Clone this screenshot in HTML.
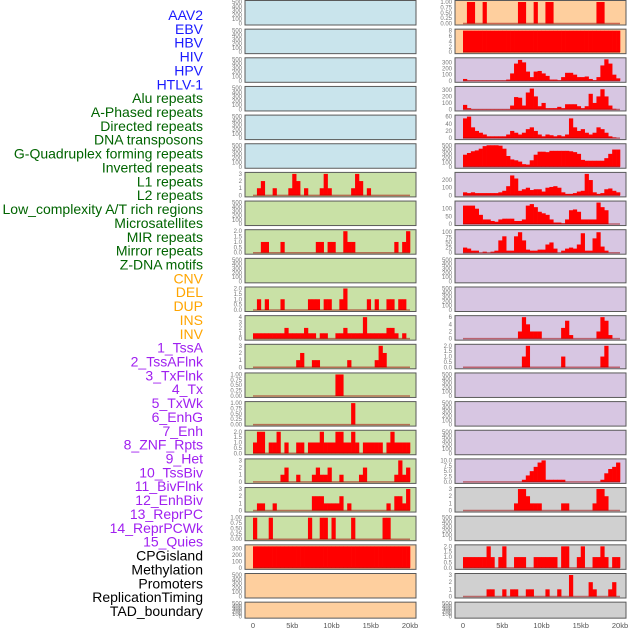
<!DOCTYPE html>
<html><head><meta charset="utf-8"><style>
body{margin:0;background:#fff}
svg{display:block;font-family:"Liberation Sans",sans-serif}
</style></head><body>
<svg id="c" width="630" height="630" viewBox="0 0 630 630"></svg>
<script>
const labels=["AAV2","EBV","HBV","HIV","HPV","HTLV-1","Alu repeats","A-Phased repeats","Directed repeats","DNA transposons","G-Quadruplex forming repeats","Inverted repeats","L1 repeats","L2 repeats","Low_complexity A/T rich regions","Microsatellites","MIR repeats","Mirror repeats","Z-DNA motifs","CNV","DEL","DUP","INS","INV","1_TssA","2_TssAFlnk","3_TxFlnk","4_Tx","5_TxWk","6_EnhG","7_Enh","8_ZNF_Rpts","9_Het","10_TssBiv","11_BivFlnk","12_EnhBiv","13_ReprPC","14_ReprPCWk","15_Quies","CPGisland","Methylation","Promoters","ReplicationTiming","TAD_boundary"];
const labelGroups=[6,13,5,15,5];
const xTicks=[0,5000,10000,15000,20000];
const xTickLabels=["0","5kb","10kb","15kb","20kb"];
// left-panel series (40 bins of 500bp)
const L6=[0,1,2,0,0,1,0,0,0,1,3,2,0,1,0,0,0,1,3,1,0,0,0,0,0,1,3,2,0,1,0,0,0,0,0,0,0,0,0,0];
const L8=[0,0,1,1,0,0,0,1,0,0,0,0,0,0,0,0,1,1,0,1,1,0,0,2,1,1,0,0,0,0,0,0,0,0,0,0,1,0,1,2];
const L10=[0,1,0,1,0,0,0,1,0,0,0,0,0,0,1,1,1,0,1,1,0,0,1,2,0,0,0,0,0,1,0,1,0,0,1,1,0,1,1,0];
const L11=[1,1,1,1,1,1,1,1,2,1,1,1,1,2,1,1,0,1,1,0,0,1,1,2,1,1,1,1,4,1,1,1,1,1,2,2,1,0,1,0];
const L12=[0,0,0,0,0,0,0,0,0,0,0,1,2,0,0,1,1,0,0,0,0,0,0,0,1,0,0,0,0,0,0,1,3,2,0,0,0,0,0,0];
const L13=[0,0,0,0,0,0,0,0,0,0,0,0,0,0,0,0,0,0,0,0,0,1,1,0,0,0,0,0,0,0,0,0,0,0,0,0,0,0,0,0];
const L14=[0,0,0,0,0,0,0,0,0,0,0,0,0,0,0,0,0,0,0,0,0,0,0,0,0,1,0,0,0,0,0,0,0,0,0,0,0,0,0,0];
const L15=[1,2,2,0,1,1,2,0,1,0,0,1,1,0,1,1,1,2,1,1,1,2,2,1,1,2,1,0,1,1,1,1,1,0,1,2,1,1,1,1];
const L16=[0,0,0,0,0,0,0,1,2,0,0,1,0,0,0,1,2,1,1,2,0,0,1,0,0,0,0,1,2,0,0,0,0,0,0,0,1,3,1,2];
const L17=[0,1,1,0,0,1,0,0,0,0,0,0,0,0,0,2,2,2,1,1,1,1,2,0,1,0,0,0,0,0,0,0,0,0,1,0,2,2,1,3];
const L18=[1,0,0,0,1,0,0,0,0,0,0,0,0,0,1,0,0,1,1,0,1,0,0,0,0,1,0,0,0,0,0,0,0,1,1,0,0,0,0,0];
const L19=[330,330,330,330,330,330,330,330,330,330,330,330,330,330,330,330,330,330,330,330,330,330,330,330,330,330,330,330,330,330,330,330,330,330,330,330,330,330,330,330];
// right-panel series
const R0=[0,1,1,0,0,1,0,0,0,0,0,0,0,0,1,1,0,0,1,0,0,1,1,0,0,0,0,0,0,0,0,0,0,0,1,1,0,0,0,0];
const R1=[8,8,8,8,8,8,8,8,8,8,8,8,8,8,8,8,8,8,8,8,8,8,8,8,8,8,8,8,8,8,8,8,8,8,8,8,8,8,8,8];
const R2=[30,5,5,5,5,5,5,5,5,5,5,20,120,280,340,300,150,60,150,160,120,80,20,20,10,60,130,130,100,60,60,70,30,10,60,250,350,280,100,40];
const R3=[70,20,5,5,5,5,5,5,5,5,5,5,60,190,180,60,260,320,200,50,100,20,20,20,40,20,80,80,80,50,20,50,240,100,200,310,200,60,10,0];
const R4=[55,60,30,20,15,10,5,5,5,5,5,10,20,15,10,15,25,30,20,10,5,10,8,5,8,5,10,55,30,20,25,15,10,15,30,25,15,5,2,0];
const R5=[280,320,360,380,420,480,500,500,500,490,420,250,170,150,120,60,50,150,280,350,350,340,370,370,370,370,370,360,340,300,160,140,140,140,140,140,200,300,400,400];
const R6=[40,30,40,30,30,30,30,30,30,40,60,120,260,220,60,80,100,70,80,80,50,100,110,120,100,40,20,20,30,50,60,280,200,40,20,30,80,90,60,40];
const R7=[120,120,120,100,60,30,30,20,15,30,35,35,35,20,20,30,120,130,110,80,70,60,30,10,10,5,30,90,95,80,30,30,30,30,140,110,90,0,0,0];
const R8=[25,20,10,10,0,5,0,5,10,60,80,10,10,80,100,60,15,10,10,15,15,40,50,20,0,10,20,25,20,40,95,10,10,70,100,30,10,0,0,0];
const R11=[0,0,0,0,0,0,0,0,0,0,0,0,0,0,2,6,4,2,2,2,0,0,0,0,0,3,5,1,0,0,0,0,0,0,2,6,5,1,0,0];
const R12=[0,0,0,0,0,0,0,0,0,0,0,0,0,0,0,1,2,0,0,0,0,0,0,0,0,1,0,0,0,0,0,0,0,0,0,1,2,0,0,0];
const R16=[0,0,0,0,0,0,0,0,0,0,0,0,0,0,0,1,3,5,7,9,10,1,1,1,1,1,0,0,0,0,0,0,0,0,0,1,4,6,7,9];
const R17=[0,0,0,0,0,0,0,0,0,0,0,0,0,1,3,3,2,1,1,1,0,0,0,0,0,1,1,0,0,0,0,0,0,1,3,3,2,0,0,0];
const R19=[1,1,1,1,1,1,2,1,0,1,2,0,0,1,1,1,0,0,1,1,1,1,1,1,0,2,2,0,0,1,2,0,0,1,1,2,1,0,1,1];
const R20=[0,0,0,0,0,0,1,1,0,0,1,0,1,1,0,0,1,1,0,0,0,1,0,0,1,0,0,3,0,0,0,0,2,1,0,0,0,1,2,0];
const T500=["0","100","200","300","400","500"], T1=["0.00","0.25","0.50","0.75","1.00"], T2=["0.0","0.5","1.0","1.5","2.0"], T3=["0","1","2","3"], T4=["0","1","2","3","4"];
const left=[[null,500,T500],[null,500,T500],[null,500,T500],[null,500,T500],[null,500,T500],[null,500,T500],[L6,3,T3],[null,500,T500],[L8,2,T2],[null,500,T500],[L10,2,T2],[L11,4,T4],[L12,3,T3],[L13,1,T1],[L14,1,T1],[L15,2,T2],[L16,3,T3],[L17,3,T3],[L18,1,T1],[L19,330,["0","100","200","300"]],[null,500,T500],[null,500,T500]];
const right=[[R0,1,T1],[R1,8,["0","2","4","6","8"]],[R2,350,["0","100","200","300"]],[R3,330,["0","100","200","300"]],[R4,60,["0","20","40","60"]],[R5,500,T500],[R6,280,["0","100","200"]],[R7,140,["0","50","100"]],[R8,105,["0","25","50","75","100"]],[null,500,T500],[null,500,T500],[R11,6,["0","2","4","6"]],[R12,2,T2],[null,500,T500],[null,500,T500],[null,500,T500],[R16,10,["0.0","2.5","5.0","7.5","10.0"]],[R17,3,T3],[null,500,T500],[R19,2,T2],[R20,3,T3],[null,500,T500]];
const leftBg=i=>i<6?"#c9e4ec":(i<19?"#c9e1a6":"#fecf9e");
const rightBg=i=>i<2?"#fecf9e":(i<17?"#d7c6e2":"#d0d0d0");

const svg=document.getElementById('c');
const NS="http://www.w3.org/2000/svg";
function mk(t,a,p){const e=document.createElementNS(NS,t);for(const k in a)e.setAttribute(k,a[k]);(p||svg).appendChild(e);return e;}
const gcol=["#1a1aff","#006400","#ffa500","#a020f0","#000000"];
let li=0;
labelGroups.forEach((n,g)=>{for(let k=0;k<n;k++){const t=mk('text',{x:203,y:15+li*13.86+5,'text-anchor':'end','font-size':'14',fill:gcol[g]});t.textContent=labels[li];

li++;}});

function panel(cfg,i,px,x0,bg,side){
  const top=0.5+i*28.65, h=i===21?16:24.5, bot=top+h;
  const [vals,ymax,ticks]=cfg;
  const g=mk('g',{});
  
  
  const r=mk('rect',{x:px,y:top,width:171,height:h,fill:bg,stroke:'#5a5a5a','stroke-width':1},g);
  
  
  const ys=v=>bot-1.5-v/ymax*(h-3);
  const xs=v=>x0+v/20000*157;
  ticks.forEach(tl=>{const v=parseFloat(tl);const t=mk('text',{x:px-3,y:ys(v)+2,'text-anchor':'end','font-size':'6',fill:'#777'},g);t.textContent=tl;
    
    });
  if(vals){
    vals.forEach((v,b)=>{if(v<=0)return;const x1=xs(b*500),x2=xs((b+1)*500);
      const rr=mk('rect',{x:x1,y:ys(v),width:x2-x1+0.3,height:ys(0)-ys(v),fill:'#ff0000'},g);
      
      });
    const bl=mk('line',{x1:xs(0),x2:xs(20000),y1:ys(0),y2:ys(0),stroke:'rgba(160,0,0,0.5)','stroke-width':1.5},g);
    
    
  }
}
for(let i=0;i<22;i++){panel(left[i],i,245,253,leftBg(i),'left');panel(right[i],i,455,463,rightBg(i),'right');}
[253,463].forEach(x0=>{xTicks.forEach((v,k)=>{const t=mk('text',{x:x0+v/20000*157,y:628,'text-anchor':'middle','font-size':'7.5',fill:'#555'});t.textContent=xTickLabels[k];
  
  });});
</script>
</body></html>
